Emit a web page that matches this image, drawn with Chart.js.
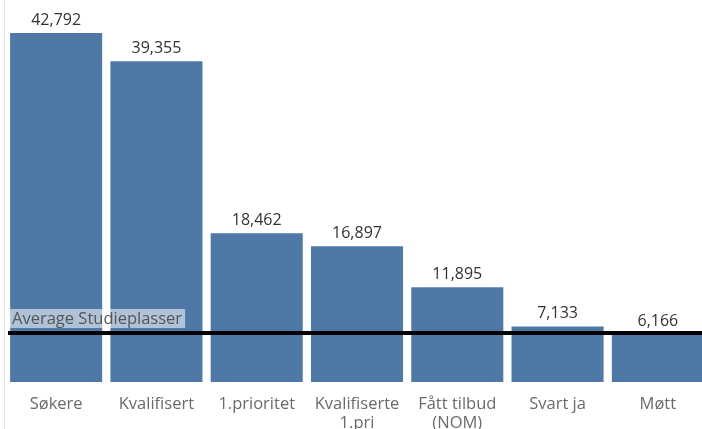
<!DOCTYPE html>
<html>
<head>
<meta charset="utf-8">
<script src="https://cdn.jsdelivr.net/npm/chart.js@4.4.1/dist/chart.umd.min.js"></script>
<style>
  html, body { margin: 0; padding: 0; background: #fff; overflow: hidden; }
  #wrap { width: 702px; height: 429px; overflow: hidden; position: relative; }
  #box { width: 712px; height: 429px; position: absolute; left: 0; top: 0; }
</style>
</head>
<body>
<div id="wrap"><div id="box"><canvas id="funnel"></canvas></div></div>
<script>
// --- data ---
const categories = ['Søkere', 'Kvalifisert', '1.prioritet', ['Kvalifiserte', '1.pri'], ['Fått tilbud', '(NOM)'], 'Svart ja', 'Møtt'];
const applicants = [42792, 39355, 18462, 16897, 11895, 7133, 6166];
const averageStudieplasser = 6350;
const averageLabel = 'Average Studieplasser';

const BAR_BLUE = '#4e79a7';
const FONT = '"Open Sans", sans-serif';

// value labels above each bar + the reference line
const overlay = {
  id: 'overlay',
  afterDatasetsDraw(chart) {
    const ctx = chart.ctx;
    const meta = chart.getDatasetMeta(0);
    const y = chart.scales.y;
    const area = chart.chartArea;

    // faint left border
    ctx.save();
    ctx.strokeStyle = '#e4e4e4';
    ctx.lineWidth = 1;
    ctx.beginPath();
    ctx.moveTo(4.5, 0);
    ctx.lineTo(4.5, chart.height);
    ctx.stroke();

    // reference line
    const ly = y.getPixelForValue(averageStudieplasser);
    ctx.strokeStyle = '#000';
    ctx.lineWidth = 4;
    ctx.beginPath();
    ctx.moveTo(area.left + 2, ly);
    ctx.lineTo(area.right, ly);
    ctx.stroke();

    // reference label with translucent box
    ctx.font = '16.5px ' + FONT;
    const tw = ctx.measureText(averageLabel).width;
    ctx.fillStyle = 'rgba(255,255,255,0.55)';
    ctx.fillRect(10, ly - 24, tw + 5, 19);
    ctx.fillStyle = '#555';
    ctx.textAlign = 'left';
    ctx.textBaseline = 'middle';
    ctx.fillText(averageLabel, 12, ly - 14);

    // bar values
    ctx.font = '16px ' + FONT;
    ctx.fillStyle = '#333';
    ctx.textAlign = 'center';
    ctx.textBaseline = 'middle';
    meta.data.forEach((bar, i) => {
      ctx.fillText(applicants[i].toLocaleString('en-US'), bar.x, bar.y - 13);
    });
    ctx.restore();
  }
};

new Chart(document.getElementById('funnel'), {
  type: 'bar',
  data: {
    labels: categories,
    datasets: [{
      data: applicants,
      backgroundColor: BAR_BLUE,
      categoryPercentage: 1,
      barPercentage: 0.918
    }]
  },
  options: {
    responsive: true,
    maintainAspectRatio: false,
    animation: false,
    layout: { padding: { left: 6, right: 4, top: 0, bottom: 0 } },
    plugins: { legend: { display: false }, tooltip: { enabled: false } },
    scales: {
      x: {
        grid: { display: false },
        border: { display: false },
        ticks: { color: '#6a6a6a', font: { family: FONT, size: 16.5, lineHeight: 1.2 }, padding: 4, maxRotation: 0, autoSkip: false },
        afterFit: s => { s.height = 47; }
      },
      y: {
        display: false,
        min: 400,
        max: 46800
      }
    }
  },
  plugins: [overlay]
});
</script>
</body>
</html>
